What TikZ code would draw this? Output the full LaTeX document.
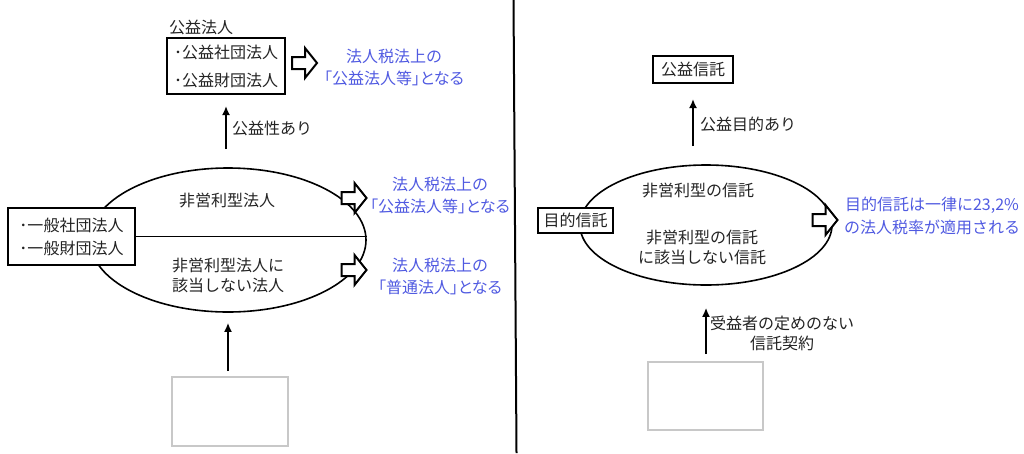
\documentclass[tikz,border=0pt]{standalone}
\usepackage{fontspec}
\setmainfont{Noto Sans CJK JP}
\newfontfamily\pfont[RawFeature=+palt]{Noto Sans CJK JP}
\usetikzlibrary{shapes.geometric,arrows.meta}
\definecolor{bluetxt}{RGB}{80,90,225}
\definecolor{graybox}{RGB}{200,200,200}
\definecolor{txtgray}{RGB}{35,35,35}
\begin{document}
\begin{tikzpicture}[x=1pt,y=-1pt,
  every node/.style={font=\fontsize{16}{20}\selectfont, inner sep=0pt, text=txtgray},
  bluet/.style={text=bluetxt, align=center, font=\fontsize{16}{22}\selectfont},
  thickbox/.style={draw=black, line width=2pt, fill=white, inner sep=0pt},
  hollowp/.style={draw=black, line width=2pt, fill=white, line join=miter},
  upar/.style={-{Latex[length=9pt,width=8pt]}, line width=2pt},
  ellb/.style={ellipse, draw=black, line width=1.6pt, inner sep=0pt},
  placeholder/.style={draw=graybox, line width=2pt, minimum width=116pt, minimum height=69pt}
]
\useasboundingbox (0,0) rectangle (1024,453);
\newcommand\hollowarrow[1]{\draw[hollowp] (#1) ++(-12.5,-6) -- ++(13,0) -- ++(0,-9) -- ++(12,15) -- ++(-12,15) -- ++(0,-9) -- ++(-13,0) -- cycle;}

% ---------- left half ----------
\node[anchor=west] (kkhj) at (169,27) {公益法人};
\node[thickbox, minimum width=118pt, minimum height=56pt, align=left, font=\fontsize{16}{28}\selectfont] (kbox) at (226,66) {･公益社団法人\\･公益財団法人};
\coordinate (ha1) at (304.5,63);
\hollowarrow{ha1}
\node[bluet] (b1) at (394,67) {法人税法上の\\{\pfont 「公益法人等」となる}};

\node[ellb, minimum width=276pt, minimum height=144pt] (e1) at (228,240) {};
\node[thickbox, line width=1.5pt, minimum width=127pt, minimum height=57pt, align=left, font=\fontsize{16}{23}\selectfont] (gen) at (71.5,236.5) {･一般社団法人\\･一般財団法人};
\draw[line width=1.6pt] (gen.east) -- (gen.east -| e1.east);

\draw[upar] ([yshift=18pt]e1.north -| kbox.south) -- ([yshift=-11pt]kbox.south) ;
\node[anchor=west] (kl1) at (232,128) {公益性あり};

\node (t1) at (227,200) {非営利型法人};
\node[align=center] (t2) at (228,275) {非営利型法人に\\該当しない法人};
\coordinate (ha2) at (354,198);
\coordinate (ha3) at (354,270);
\hollowarrow{ha2}
\hollowarrow{ha3}
\node[bluet] (b2) at (440,195) {法人税法上の\\{\pfont 「公益法人等」となる}};
\node[bluet] (b3) at (440,276) {法人税法上の\\{\pfont 「普通法人」となる}};

\node[placeholder] (ph1) at (230,411.5) {};
\draw[upar] ([yshift=5pt]ph1.north -| e1.south) -- ([yshift=-10pt]e1.south);

% ---------- divider ----------
\coordinate (dtop) at (513.5,0);
\coordinate (dbot) at (516.5,453);
\draw[line width=2pt] (dtop) -- (dbot);

% ---------- right half ----------
\node[thickbox, minimum width=80pt, minimum height=27pt] (kt) at (693,69.5) {公益信託};
\node[ellb, minimum width=252pt, minimum height=120pt] (e2) at (706,225) {};
\draw[upar] ([yshift=18pt]e2.north -| kt.south) -- ([yshift=-15pt]kt.south);
\node[anchor=west] (kl2) at (700,124) {公益目的あり};

\node[thickbox, minimum width=75pt, minimum height=25pt] (mt) at (575.5,220) {目的信託};
\node (t3) at (698,190) {非営利型の信託};
\node[align=center] (t4) at (702,247) {非営利型の信託\\に該当しない信託};
\coordinate (ha4) at (825,220);
\hollowarrow{ha4}
\node[bluet, font=\fontsize{16}{23}\selectfont] (b4) at (932,216) {目的信託は一律に23,2\%\\の法人税率が適用される};

\node[placeholder, minimum width=115pt, minimum height=68pt] (ph2) at (705.5,396) {};
\draw[upar] ([yshift=7pt]ph2.north -| e2.south) -- ([yshift=-22pt]e2.south);
\node[align=center] (kl3) at (782,333) {受益者の定めのない\\信託契約};
\end{tikzpicture}
\end{document}
